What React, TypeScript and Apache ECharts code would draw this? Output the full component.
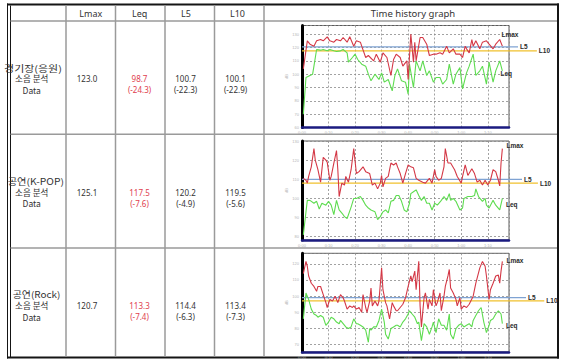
import React, { useEffect, useRef } from 'react';
import * as echarts from 'echarts';

// ---------------- data ----------------
const metricNames = ['Lmax', 'Leq', 'L5', 'L10'];
const graphTitle = 'Time history graph';
const rowTitles = ['경기장(응원)', '공연(K-POP)', '공연(Rock)'];
const rowSubtitle = '소음 분석';
const rowDataWord = 'Data';
const lmaxTotals = [123.0, 125.1, 120.7];
const leqTotals = [98.7, 117.5, 113.3];
const leqChanges = [-24.3, -7.6, -7.4];
const l5Totals = [100.7, 120.2, 114.4];
const l5Changes = [-22.3, -4.9, -6.3];
const l10Totals = [100.1, 119.5, 113.4];
const l10Changes = [-22.9, -5.6, -7.3];

// time history graphs: [time, level]
const l5Levels = [120.5, 110, 99.5];
const l10Levels = [117.5, 108, 97.5];

const lmaxHistory1 = [[0.5,104],[2,125],[3,122.5],[4.5,121],[5.5,125],[7,126],[8,125],[9.5,128],[10.5,125],[12,124],[13,126],[14.5,125],[15.5,127.5],[17,124],[18,128],[19.5,121],[20.5,125],[22,124],[22.5,121],[24,112.5],[25,114],[27,110],[28,115],[29.5,109],[30.5,116],[32,112.5],[33.5,99],[34.5,111],[35.5,115],[37,112.5],[38,106],[39.5,110],[40,96],[41,130],[42,109],[42.5,124],[43,110],[44.5,127.5],[45.5,127.5],[47,122.5],[48,114],[49.5,115],[50.5,115],[52,116],[53,115],[54.5,121],[55.5,116],[57,119],[58,115],[59.5,115],[60.5,112.5],[61.5,121],[62,119],[63,116],[64,126],[64.5,121],[65.5,125],[67,119],[68,124],[69.5,125],[70.5,122.5],[72,119],[73,122.5],[74.5,126],[75.5,121]];
const leqHistory1 = [[0.5,70],[1.5,97.5],[3,99],[4,100],[4.5,106],[5.5,118.5],[7,118],[8,118.5],[9.5,117.5],[10.5,118.5],[12,117.5],[13,117],[14.5,117.5],[15.5,118.5],[17,116],[17.5,109],[19,112.5],[20,115],[21,111],[22.5,107.5],[24,106],[25,100],[26,95],[27.5,100],[29,96],[30,101],[31,94],[32.5,96],[34,87.5],[35,99],[36,104],[37.5,95],[39,94],[40,85],[40.5,107.5],[42,90],[43,110],[44.5,102.5],[45.5,110],[47,99],[48,102.5],[49.5,94],[50.5,97.5],[52,97.5],[53,92.5],[54.5,96],[55.5,107.5],[57,92.5],[58,100],[59.5,105],[60.5,89],[62,101],[63,106],[64.5,115],[65.5,99],[67,102.5],[68,106],[69.5,92.5],[70.5,109],[72,94],[73,102.5],[74.5,110],[75.5,102.5]];

const lmaxHistory2 = [[0.5,110.5],[1.5,109.5],[2,108],[2.5,111.5],[3.5,116.5],[4.5,126],[5,120],[6,115],[7,108.5],[8,121.5],[9,120],[9.5,119],[10.5,109.5],[11,111.5],[12,118.5],[13,125],[13.5,115],[14,101],[15,108],[16,107],[16.5,111.5],[17.5,108.5],[18.5,115],[19.5,126],[20.5,113],[21.5,114],[23,116.5],[24,114],[25.5,113],[26.5,107],[27.5,108],[28.5,105],[29.5,108],[30,112],[30.5,106],[31.5,110.5],[32.5,111.5],[33.5,118.5],[34.5,117.5],[35.5,118.5],[36,116.5],[37,113],[38,108],[39,113],[40,117.5],[41,116.5],[42,116],[43,110.5],[44,109.5],[45.5,108.5],[46.5,108],[48,110.5],[49,108],[50,115],[50.5,111.5],[51.5,109.5],[52.5,110.5],[53.5,116.5],[54,126],[55,118.5],[56,118.5],[57.5,115],[58.5,111.5],[60,108],[60.5,111.5],[61.5,117.5],[62.5,112],[64,115.5],[65,113],[66,108.5],[67,109.5],[68,107],[69,109.5],[70,107],[71,109.5],[72,115],[73,114],[74,109.5],[74.5,106.5],[75,118.5],[75.5,126]];
const leqHistory2 = [[0.5,81],[2,99],[3,99],[4.5,97.5],[5.5,98.5],[6.5,94.5],[7.5,97.5],[9,96.5],[10,98.5],[11,96.5],[12,91.5],[13,99],[14,94],[15.5,91.5],[16,90.5],[17,89.5],[18.5,95.5],[19.5,100],[20.5,100],[22,101],[23,99],[24,96.5],[25,95],[26,94],[27.5,93],[28.5,89],[29.5,90.5],[30.5,93],[31.5,94],[32.5,92.5],[33.5,98.5],[34.5,99],[35.5,101.5],[36.5,101.5],[37.5,98.5],[38.5,94],[39.5,93],[40.5,97.5],[41,102.5],[42,103.5],[43,104.5],[44,101.5],[45,99],[46,101],[47,97.5],[48,97.5],[49,94],[50,97.5],[51,96.5],[52.5,99],[53.5,101],[54.5,99],[55.5,102.5],[56,99],[57,100],[58,98.5],[59.5,94],[60.5,95],[61,100],[62.5,101],[64,101],[65,101.5],[65.5,105],[66.5,101],[68,98.5],[69,100],[69.5,96.5],[70.5,95],[72,99],[73,96.5],[74.5,94],[75.5,100]];

const lmaxHistory3 = [[0.5,114],[1.5,121.5],[2,118.5],[2.5,112.5],[3.5,108],[4.5,106],[5.5,103],[6,106],[7,106],[8,101],[9,96],[9.5,93],[10.5,98],[11.5,97],[12.5,100],[13.5,96],[14.5,101],[15.5,99],[16,97],[17,92],[18,94],[19,93],[19.5,94],[20.5,92],[21.5,93],[22.5,90],[23,101],[24,93],[24.5,90],[25.5,97],[26,105],[26.5,94],[27.5,97],[28.5,94],[29,97],[30,117.5],[30.5,104],[31.5,96],[32,94],[33,86],[34,96],[34.5,94],[35.5,91],[36,91],[37,93],[38,95],[39,99],[40,106],[41,112.5],[41.5,109],[42.5,115.5],[43,104],[44,121.5],[44.5,94],[45,81],[46,99],[46.5,102],[47.5,92],[48,98],[49,94],[49.5,104],[50.5,94],[51,96],[52,102],[52.5,91],[53.5,100],[54,106],[55,112.5],[55.5,116.5],[56,105],[57,102],[58,98],[58.5,94],[59.5,99],[60,92],[61,94],[62,93],[63,95],[64.5,100],[65.5,108],[67,117.5],[68,121.5],[69,118.5],[69.5,112.5],[70.5,98],[71,104],[72,108],[73,112.5],[74,113],[74.5,108],[75,115.5],[75.5,121.5]];
const leqHistory3 = [[0.5,86],[1,94],[1.5,102],[2.5,98],[3.5,92],[4.5,89],[5.5,88],[6,87],[7,88],[8,87],[9,82],[10,84],[11,87],[12,86],[13,84],[14,83],[14.5,85],[15.5,83],[16.5,81],[17.5,80],[18.5,81],[19.5,86],[20.5,83],[21,83],[22,82],[23,81],[24,79],[25,71.5],[25.5,80],[26,79],[27,81],[28,81],[29,85],[30,92],[31,84],[31.5,76.5],[32.5,73.5],[33.5,80],[34.5,81],[35.5,82],[36,82],[37,81],[38,84],[39,86],[40,89],[40.5,91],[41.5,89],[42.5,87],[43.5,83],[44,84],[45,72.5],[46,83],[47,81],[48,76.5],[49,81],[49.5,84],[50.5,77.5],[51.5,86],[52.5,82],[53.5,82],[54.5,79],[55.5,89],[56,76.5],[57,73.5],[58,80],[59,82],[60,83],[61,81],[62,82],[63,83],[64,81],[64.5,85],[65.5,88],[66.5,91],[67.5,93],[68.5,84],[69.5,77.5],[70.5,82],[71,85],[72,86],[73,89],[74,91],[75,89],[75.5,83]];

const lmaxHistories = [lmaxHistory1, lmaxHistory2, lmaxHistory3];
const leqHistories = [leqHistory1, leqHistory2, leqHistory3];

// ---------------- layout / style ----------------
const FONT_KR = "'Noto Sans CJK KR', 'Noto Sans', sans-serif";
const FONT_LATIN = "'Noto Sans', 'Noto Sans CJK KR', sans-serif";
const FONT_LABEL = "'Liberation Sans', Arial, sans-serif";
const TEXT = '#333333';
const RED_TEXT = '#e0404e';
const RULE = '#9a9a9a';
const BORDER = '#151515';

const table = {
  outerLeft: 7.5, innerLeft: 10.5, right: 558, top: 4.5, bottom: 357.5,
  header: 21, rowLines: [134.3, 248], colLines: [66, 115.5, 165, 214.5, 264],
  headerY: 13.3, headerX: [90.8, 139.7, 186, 237.5], graphHeaderX: 413,
  valueX: [87, 139.5, 185.5, 235.5],
  nameX: 31.7, titleX: [33, 35.8, 36.5], titleScale: [1.22, 1.14, 1.1],
  lineY: [[67.5, 78.5, 89.5], [181.7, 192.7, 203.3], [294.3, 305.3, 316.7]],
};

const PLOT = { left: 302, width: 207, xMax: 78, extWidth: 243 };
const EXT_X_MAX = (PLOT.xMax * PLOT.extWidth) / PLOT.width;

const charts = [
  { top: 25.5, height: 102, yMin: 60, yMax: 136.5, split: 7, l5End: 81.4, l10End: 88.5, lmaxLabel: [501.5, 34.3], leqLabel: [500.5, 73.3] },
  { top: 141, height: 99, yMin: 78.3, yMax: 130, split: 5, l5End: 82.9, l10End: 88.9, lmaxLabel: [506.5, 145], leqLabel: [506, 204] },
  { top: 253.3, height: 100, yMin: 65.5, yMax: 126.5, split: 6, l5End: 84.4, l10End: 91.3, lmaxLabel: [506.5, 260.7], leqLabel: [506, 325] },
];

const COLORS = { lmax: '#d43846', leq: '#5edc50', l5: '#7fa3d3', l10: '#f0c02c' };

function rule(x1: number, y1: number, x2: number, y2: number, stroke: string, lineWidth: number) {
  return { type: 'line', silent: true, shape: { x1, y1, x2, y2 }, style: { stroke, lineWidth } };
}

function txt(text: string, x: number, y: number, o: any = {}) {
  const align = o.align || 'center';
  return {
    type: 'text', x, y, silent: true, scaleX: o.scaleX || 1, z: 10,
    style: {
      text, fill: o.color || TEXT, fontSize: o.size || 8, fontFamily: o.family || FONT_LATIN,
      fontWeight: o.weight || 'normal', align, textAlign: align, verticalAlign: 'middle', textVerticalAlign: 'middle',
    },
  };
}

const isTen = (v: number) => Math.abs(v - Math.round(v / 10) * 10) < 1e-6;

function buildOption() {
  const grid: any[] = [];
  const xAxis: any[] = [];
  const yAxis: any[] = [];
  const series: any[] = [];
  const graphic: any[] = [];

  // table rules
  graphic.push(rule(7, table.top, 559, table.top, BORDER, 2));
  graphic.push(rule(table.outerLeft, 3.5, table.outerLeft, 358.5, BORDER, 1));
  graphic.push(rule(table.innerLeft, 5.5, table.innerLeft, 357, BORDER, 1));
  graphic.push(rule(table.right, 3.5, table.right, 358.5, BORDER, 2));
  graphic.push(rule(7, table.bottom, 559, table.bottom, BORDER, 2));
  graphic.push(rule(table.innerLeft, table.header, table.right - 1, table.header, RULE, 1.5));
  table.rowLines.forEach((y) => graphic.push(rule(table.innerLeft, y, table.right - 1, y, RULE, 1.5)));
  table.colLines.forEach((x) => graphic.push(rule(x, 5.5, x, table.bottom - 1, RULE, 1.5)));

  // header texts
  metricNames.forEach((m, i) => graphic.push(txt(m, table.headerX[i], table.headerY, { size: 9 })));
  graphic.push(txt(graphTitle, table.graphHeaderX, table.headerY, { size: 9.5 }));

  // body texts
  rowTitles.forEach((title, r) => {
    const ys = table.lineY[r];
    graphic.push(txt(title, table.titleX[r], ys[0], { family: FONT_KR, size: 9, scaleX: table.titleScale[r] }));
    graphic.push(txt(rowSubtitle, table.nameX, ys[1], { family: FONT_KR, size: 9, scaleX: 0.95 }));
    graphic.push(txt(rowDataWord, table.nameX, ys[2], { family: FONT_KR, size: 8.5 }));
    graphic.push(txt(lmaxTotals[r].toFixed(1), table.valueX[0], ys[1], { size: 8 }));
    graphic.push(txt(leqTotals[r].toFixed(1), table.valueX[1], ys[1], { size: 8, color: RED_TEXT }));
    graphic.push(txt(`(${leqChanges[r].toFixed(1)})`, table.valueX[1], ys[2], { size: 8, color: RED_TEXT }));
    graphic.push(txt(l5Totals[r].toFixed(1), table.valueX[2], ys[1], { size: 8 }));
    graphic.push(txt(`(${l5Changes[r].toFixed(1)})`, table.valueX[2], ys[2], { size: 8 }));
    graphic.push(txt(l10Totals[r].toFixed(1), table.valueX[3], ys[1], { size: 8 }));
    graphic.push(txt(`(${l10Changes[r].toFixed(1)})`, table.valueX[3], ys[2], { size: 8 }));
  });

  const labelStyle = { family: FONT_LABEL, size: 6.5, weight: 'bold', color: '#2a2a2a', align: 'left' };

  charts.forEach((c, i) => {
    const gMain = 2 * i;
    const gExt = 2 * i + 1;
    grid.push({ left: PLOT.left, top: c.top, width: PLOT.width, height: c.height, show: true, borderColor: '#5a5a5a', borderWidth: 1, backgroundColor: '#fff' });
    grid.push({ left: PLOT.left, top: c.top, width: PLOT.extWidth, height: c.height, show: false });

    xAxis.push({
      type: 'value', gridIndex: gMain, min: 0, max: PLOT.xMax, splitNumber: 8,
      axisLine: { show: true, onZero: false, lineStyle: { color: '#1b1b80', width: 2.5 } },
      axisTick: { show: false },
      axisLabel: {
        fontSize: 4, color: '#b5b5b5', margin: 3,
        formatter: (v: number) => (isTen(v) ? `${Math.floor(v / 60)}:${String(v % 60).padStart(2, '0')}` : ''),
      },
      splitLine: { show: true, lineStyle: { color: '#8a8a8a', width: 0.8, type: [2, 2] } },
    });
    xAxis.push({ type: 'value', gridIndex: gExt, min: 0, max: EXT_X_MAX, show: false });

    yAxis.push({
      type: 'value', gridIndex: gMain, min: c.yMin, max: c.yMax, splitNumber: c.split,
      name: 'dB', nameLocation: 'middle', nameGap: 9, nameRotate: 90,
      nameTextStyle: { fontSize: 4, color: '#b5b5b5' },
      axisLine: { show: true, onZero: false, lineStyle: { color: '#000', width: 3 } },
      axisTick: { show: false },
      axisLabel: { fontSize: 4, color: '#b5b5b5', margin: 3, formatter: (v: number) => (isTen(v) ? String(Math.round(v)) : '') },
      splitLine: { show: true, lineStyle: { color: '#8a8a8a', width: 0.8, type: [2, 2] } },
    });
    yAxis.push({ type: 'value', gridIndex: gExt, min: c.yMin, max: c.yMax, show: false });

    const endLabel = (name: string) => ({
      show: true, formatter: () => name, distance: 2, color: '#2a2a2a', fontSize: 6.5, fontWeight: 'bold', fontFamily: FONT_LABEL,
    });

    series.push({
      type: 'line', name: metricNames[3], xAxisIndex: gExt, yAxisIndex: gExt, silent: true, z: 2,
      data: [[0, l10Levels[i]], [c.l10End, l10Levels[i]]], symbol: 'none',
      lineStyle: { color: COLORS.l10, width: 1.3 }, endLabel: endLabel(metricNames[3]),
    });
    series.push({
      type: 'line', name: metricNames[2], xAxisIndex: gExt, yAxisIndex: gExt, silent: true, z: 2,
      data: [[0, l5Levels[i]], [c.l5End, l5Levels[i]]], symbol: 'none',
      lineStyle: { color: COLORS.l5, width: 1.3 }, endLabel: endLabel(metricNames[2]),
    });
    series.push({
      type: 'line', name: metricNames[1], xAxisIndex: gMain, yAxisIndex: gMain, silent: true, z: 3,
      data: leqHistories[i], symbol: 'none', lineStyle: { color: COLORS.leq, width: 1.1 },
    });
    series.push({
      type: 'line', name: metricNames[0], xAxisIndex: gMain, yAxisIndex: gMain, silent: true, z: 4,
      data: lmaxHistories[i], symbol: 'none', lineStyle: { color: COLORS.lmax, width: 1.1 },
    });

    graphic.push(txt(metricNames[0], c.lmaxLabel[0], c.lmaxLabel[1], labelStyle));
    graphic.push(txt(metricNames[1], c.leqLabel[0], c.leqLabel[1], labelStyle));
  });

  return { animation: false, backgroundColor: '#ffffff', grid, xAxis, yAxis, series, graphic };
}

export default function App() {
  const ref = useRef<HTMLDivElement>(null);
  useEffect(() => {
    if (!ref.current) return;
    const chart = echarts.init(ref.current, undefined, { renderer: 'svg' });
    chart.setOption(buildOption() as any);
    return () => chart.dispose();
  }, []);
  return <div ref={ref} style={{ position: 'absolute', left: 0, top: 0, width: 565, height: 359 }} />;
}
